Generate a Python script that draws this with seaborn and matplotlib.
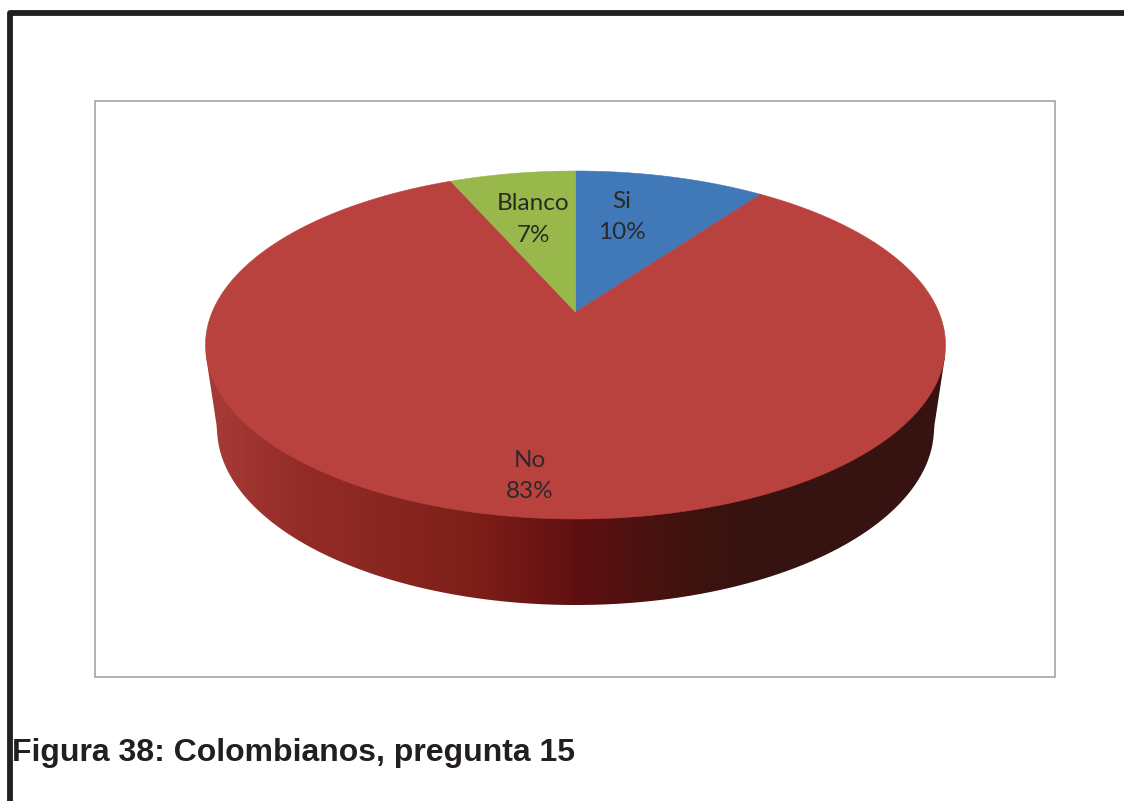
import numpy as np
import matplotlib
matplotlib.use("Agg")
import matplotlib.pyplot as plt
from matplotlib.patches import Polygon, Rectangle
from matplotlib.colors import LinearSegmentedColormap
import seaborn as sns

categories = ["Si", "No", "Blanco"]
shares = [10.0, 83.4, 6.6]
slice_colors = ["#4179B8", "#B9423F", "#98B84B"]
caption = "Figura 38: Colombianos, pregunta 15"

sns.set_theme(style="white")
plt.rcParams["font.family"] = ["Lato", "DejaVu Sans"]

fig = plt.figure(figsize=(11.24, 8.01), dpi=100, facecolor="white")
ax = fig.add_axes([0, 0, 1, 1])

wedges, _ = ax.pie(shares, startangle=90, counterclock=False,
                   colors=sns.color_palette(slice_colors))
ax.set_aspect("auto")
ax.set_xlim(0, 1124)
ax.set_ylim(801, 0)
ax.axis("off")

# pixel geometry of the drawing
CX, CY, RX, RY = 575.5, 345.0, 370.0, 174.0
LOW_CY, LOW_RX, LOW_RY = 428.0, 358.5, 177.0
APEX = (CY - 312.0) / RY


def project(x, y):
    d = 1 + APEX * y
    return CX + RX * x * np.sqrt(1 - APEX ** 2) / d, CY - RY * (y + APEX) / d


# side wall
xs = np.linspace(CX - RX, CX + RX, 741)
up = CY + RY * np.sqrt(np.clip(1 - ((xs - CX) / RX) ** 2, 0, None))
inner = np.clip(1 - ((xs - CX) / LOW_RX) ** 2, 0, None)
low = LOW_CY + LOW_RY * np.sqrt(inner)
outside = np.abs(xs - CX) > LOW_RX
frac = (RX - np.abs(xs - CX)) / (RX - LOW_RX)
low[outside] = (CY + 8 + (LOW_CY - CY - 8) * frac)[outside]
wall = Polygon(np.r_[np.c_[xs, up - 3], np.c_[xs[::-1], low[::-1]]],
               closed=True, fc="none", ec="none", transform=ax.transData)
ax.add_patch(wall)
stops = [(206, "#A83B37"), (300, "#932C28"), (400, "#88251F"), (480, "#7C1E18"),
         (540, "#6C1414"), (578, "#5F0F10"), (640, "#4C1210"), (700, "#3D120E"),
         (750, "#371310"), (945, "#361310")]
cmap = LinearSegmentedColormap.from_list(
    "wall", [((x - 206) / (945 - 206), c) for x, c in stops])
img = ax.imshow(np.linspace(0, 1, 740)[None, :], cmap=cmap, aspect="auto",
                extent=(206, 945, 610, 340), zorder=1)
img.set_clip_path(wall)
ax.set_xlim(0, 1124)
ax.set_ylim(801, 0)

# top of the pie
for w, col in zip(wedges, slice_colors):
    t = np.radians(np.linspace(w.theta1, w.theta2, 200))
    x = np.r_[0, np.cos(t)]
    y = np.r_[0, np.sin(t)]
    px, py = project(x, y)
    ax.add_patch(Polygon(np.c_[px, py], closed=True, fc=col, ec=col, lw=0.4, zorder=2))
    w.remove()

# labels
label_pos = [(622, 217), (530, 476), (533, 219.5)]
for name, val, (lx, ly) in zip(categories, shares, label_pos):
    ax.text(lx, ly, f"{name}\n{val:.0f}%", ha="center", va="center",
            fontsize=17.5, color="#2A2A2A", linespacing=1.62, zorder=3)

# chart box and page frame
ax.add_patch(Rectangle((95, 100.5), 960, 576, fc="none", ec="#9C9C9C", lw=1.1, zorder=0))
ax.plot([9.5, 9.5, 1124], [801, 13, 13], color="#231F20", lw=4.2,
        solid_joinstyle="round", solid_capstyle="butt", zorder=4)

ax.text(12, 753, caption, ha="left", va="center", fontsize=23, fontweight="bold",
        family=["Liberation Sans"], color="#231F20", zorder=5)

fig.savefig("out.png", dpi=100, facecolor="white")
